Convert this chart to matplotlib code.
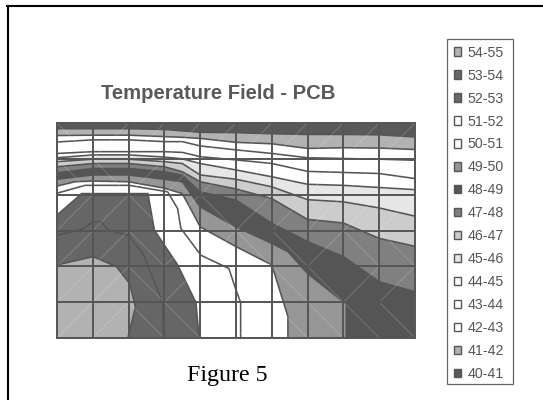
import matplotlib
matplotlib.use("Agg")
import matplotlib.pyplot as plt
from matplotlib.lines import Line2D
from matplotlib.patches import Patch, Rectangle

# Temperature bands, coolest first
band_labels = ["40-41", "41-42", "42-43", "43-44", "44-45", "45-46", "46-47", "47-48",
               "48-49", "49-50", "50-51", "51-52", "52-53", "53-54", "54-55"]
band_colors = ["#595959", "#b2b2b2", "#ffffff", "#ffffff", "#ffffff", "#e6e6e6", "#cccccc", "#808080",
               "#555555", "#969696", "#ffffff", "#ffffff", "#666666", "#666666", "#b2b2b2"]

# Isotherm positions: column along the board, row depth from the top edge
x_shared = [0, 1, 2, 3, 3.5, 4, 5, 6, 7, 8, 9, 10]
iso_41 = [.16, .16, .16, .18, .22, .26, .27, .30, .32, .32, .33, .39]
iso_42 = [.35, .34, .34, .38, .40, .43, .54, .58, .71, .69, .70, .74]
iso_43 = [.53, .47, .47, .52, .52, .64, .75, .85, .97, .99, 1.01, 1.04]
iso_44 = [.85, .80, .80, .80, .82, .94, 1.03, 1.13, 1.35, 1.38, 1.41, 1.55]
iso_45 = [.97, .89, .89, .95, 1.00, 1.13, 1.31, 1.50, 1.71, 1.74, 1.80, 1.86]
iso_46 = [1.08, 1.01, 1.01, 1.08, 1.13, 1.45, 1.57, 1.78, 2.14, 2.20, 2.37, 2.60]
iso_47 = [1.22, 1.13, 1.13, 1.22, 1.36, 1.64, 1.84, 2.11, 2.69, 2.79, 3.22, 3.44]
iso_48 = [1.39, 1.27, 1.27, 1.36, 1.46, 1.92, 2.15, 2.80, 3.31, 3.73, 4.43, 4.71]

x_49 = [0, 1, 2, 3, 3.5, 4, 5, 6, 6.45, 7, 8, 8.08, 8.08]
iso_49 = [1.57, 1.45, 1.45, 1.57, 1.64, 2.34, 2.90, 3.36, 3.59, 4.20, 4.99, 5.05, 6]
x_50 = [0, .5, 1, 2, 3, 3.5, 3.75, 4, 5, 6, 6.45, 6.45]
iso_50 = [1.76, 1.64, 1.62, 1.64, 1.82, 1.97, 2.43, 2.90, 3.45, 3.96, 5.40, 6]
x_51 = [0, .78, 2.02, 3.09, 3.37, 3.46, 4.02, 4.8, 5, 5.13, 5.13]
iso_51 = [1.96, 1.74, 1.74, 1.92, 2.39, 2.94, 3.69, 4.06, 4.66, 5.01, 6]
x_52 = [0, .69, 2.54, 2.72, 3.37, 3.88, 3.97]
iso_52 = [2.57, 1.97, 1.97, 2.99, 3.96, 5.01, 6]
x_53 = [0, .69, 1.01, 1.24, 1.43, 1.98, 2.4, 2.95, 2.97]
iso_53 = [3.13, 2.97, 2.76, 2.76, 2.99, 3.13, 3.64, 5.01, 6]
x_54 = [0, 1.01, 1.66, 2.03, 2.19, 1.98]
iso_54 = [3.96, 3.73, 4.01, 4.48, 5.13, 6]

isotherms = [(x_shared, iso_41), (x_shared, iso_42), (x_shared, iso_43), (x_shared, iso_44),
             (x_shared, iso_45), (x_shared, iso_46), (x_shared, iso_47), (x_shared, iso_48),
             (x_49, iso_49), (x_50, iso_50), (x_51, iso_51), (x_52, iso_52),
             (x_53, iso_53), (x_54, iso_54)]

# Facet diagonal direction of each surface cell
cell_diagonals = ["\\/////////",
                  "\\\\////////",
                  "//\\/\\/////",
                  "//\\//\\\\/\\\\",
                  "//\\///\\\\//",
                  "//\\\\//\\\\\\\\"]

W, H = 543, 400
fig = plt.figure(figsize=(W / 100, H / 100), dpi=100, facecolor="white")
ax = fig.add_axes([57 / W, 1 - 338 / H, (415 - 57) / W, (338 - 123) / H])
ax.set_xlim(0, 10)
ax.set_ylim(6, 0)

ax.fill([0, 10, 10, 0], [0, 0, 6, 6], color=band_colors[0], lw=0, zorder=1)
for k, (xs, ys) in enumerate(isotherms):
    ax.fill(list(xs) + [xs[-1], 0], list(ys) + [6, 6], color=band_colors[k + 1], lw=0, zorder=1 + k * 0.01)
for xs, ys in isotherms:
    ax.plot(xs, ys, color="#555555", lw=1.15, zorder=2, solid_joinstyle="round")

for r, row in enumerate(cell_diagonals):
    for c, d in enumerate(row):
        if d == "/":
            ax.plot([c, c + 1], [r + 1, r], color="white", alpha=0.25, lw=0.5, zorder=2.5)
        else:
            ax.plot([c, c + 1], [r, r + 1], color="white", alpha=0.25, lw=0.5, zorder=2.5)

ax.set_xticks(range(11))
ax.set_yticks(range(7))
ax.tick_params(length=0, labelbottom=False, labelleft=False)
ax.grid(True, color="#555555", lw=1.4, zorder=3)
ax.set_axisbelow(False)
for s in ax.spines.values():
    s.set_color("#555555")
    s.set_linewidth(1.4)

fig.text(218.5 / W, 1 - 99 / H, "Temperature Field - PCB", family="Liberation Sans", fontweight="bold",
         fontsize=14.6, color="#595959", ha="center", va="baseline")
fig.text(227 / W, 1 - 381.5 / H, "Figure 5", family="Liberation Serif", fontsize=17.3, color="black",
         ha="center", va="baseline")

fig.add_artist(Rectangle((447 / W, 1 - 384 / H), 66 / W, 345 / H, transform=fig.transFigure,
                         facecolor="white", edgecolor="#666666", lw=0.9))
handles = [Patch(facecolor=c, edgecolor="#555555", lw=1.0, label=l)
           for l, c in zip(reversed(band_labels), reversed(band_colors))]
leg = fig.legend(handles=handles, loc="upper left", bbox_to_anchor=(447 / W, 1 - 39 / H),
                 bbox_transform=fig.transFigure, prop={"family": "Liberation Sans", "size": 10.2},
                 labelcolor="#555555", handlelength=0.5, handleheight=0.5, handletextpad=0.5,
                 labelspacing=0.635, borderaxespad=0, borderpad=0.46, frameon=False)

fig.add_artist(Line2D([7.7 / W, 7.7 / W], [0, 1 - 6 / H], color="black", lw=1.5))
fig.add_artist(Line2D([7 / W, 1], [1 - 6 / H, 1 - 6 / H], color="black", lw=1.5))

fig.savefig("out.png", dpi=100)
